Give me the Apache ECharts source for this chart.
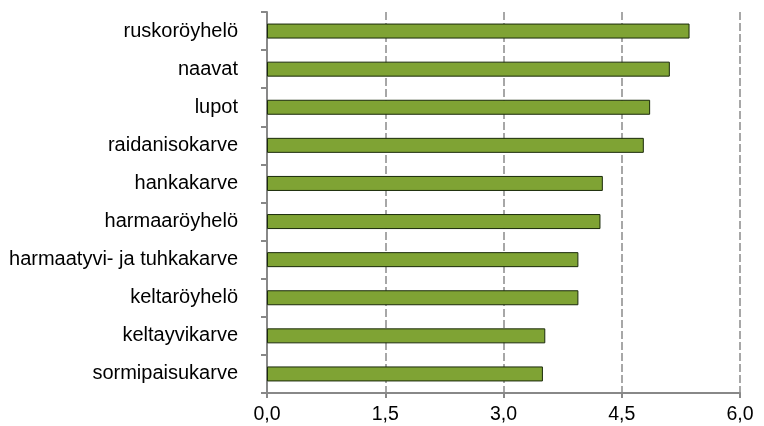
<!DOCTYPE html>
<html><head><meta charset="utf-8">
<script src="https://cdn.jsdelivr.net/npm/echarts@6/dist/echarts.min.js"></script>
<style>html,body{margin:0;padding:0;background:#fff}#c{width:764px;height:426px}</style>
</head><body><div id="c"></div>
<script>
var categories = ["ruskoröyhelö","naavat","lupot","raidanisokarve","hankakarve","harmaaröyhelö","harmaatyvi- ja tuhkakarve","keltaröyhelö","keltayvikarve","sormipaisukarve"];
var values = [5.36,5.11,4.86,4.78,4.26,4.23,3.95,3.95,3.53,3.50];
var xMin = 0, xMax = 6, xStep = 1.5;

var chart = echarts.init(document.getElementById('c'), null, {renderer:'canvas'});
chart.setOption({
  animation:false,
  grid:{left:267,right:24,top:12,bottom:33,containLabel:false},
  xAxis:{type:'value',min:xMin,max:xMax,interval:xStep,
    axisLine:{show:true,lineStyle:{color:'#888',width:2}},
    axisTick:{show:true,length:5,lineStyle:{color:'#888',width:2}},
    axisLabel:{fontFamily:'Liberation Sans',fontSize:19.5,color:'#000',margin:12,
      formatter:function(v){return v.toFixed(1).replace('.',',');}},
    splitLine:{show:true,lineStyle:{color:'#8a8a8a',type:[8,3],width:1.5}}
  },
  yAxis:{type:'category',data:categories,inverse:true,
    axisLine:{show:true,lineStyle:{color:'#888',width:2}},
    axisTick:{show:true,length:6,lineStyle:{color:'#888',width:2}},
    axisLabel:{fontFamily:'Liberation Sans',fontSize:20,color:'#000',margin:29},
    splitLine:{show:false}
  },
  series:[{type:'bar',data:values,barWidth:15,
    itemStyle:{color:'#7fa334',borderColor:'#1a2a0a',borderWidth:1}}]
});
</script></body></html>
